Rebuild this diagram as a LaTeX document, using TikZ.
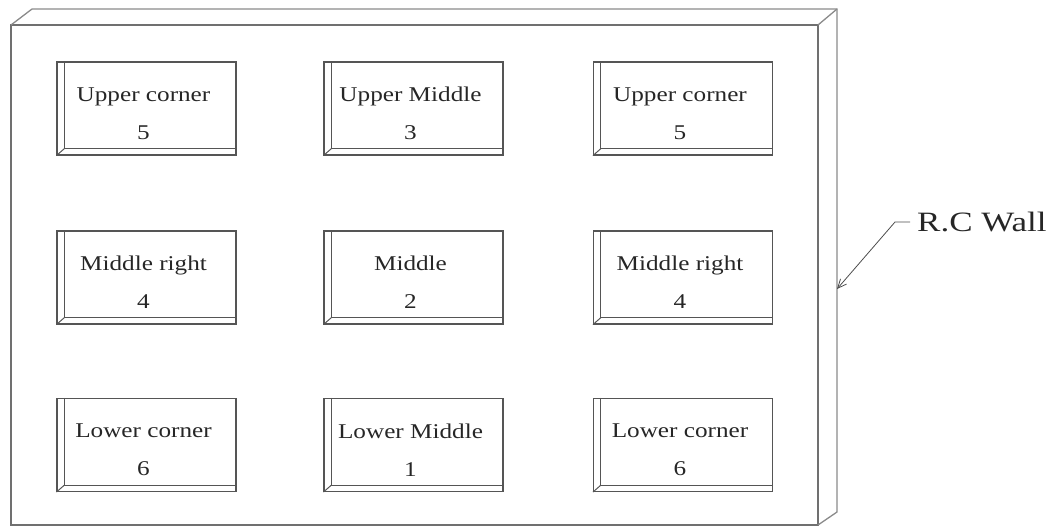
\documentclass[tikz,border=0pt]{standalone}
\usepackage{fontspec}
\setmainfont{Liberation Serif}
\newfontfamily\boxfont[FakeStretch=1.2]{Liberation Serif}
\newfontfamily\wallfont[FakeStretch=1.25]{Liberation Serif}
\usetikzlibrary{arrows.meta}
\definecolor{boxline}{HTML}{555555}
\definecolor{wallline}{HTML}{707070}
\definecolor{backline}{HTML}{8A8A8A}
\tikzset{
  wbox/.style={draw=boxline, line width=1.1pt, minimum width=179pt, minimum height=93pt, inner sep=0pt},
  bevel/.style={draw=boxline, line width=1pt},
  wtext/.style={font=\boxfont\fontsize{21}{38}\selectfont, align=center, text=black!85, inner sep=0pt},
  wall/.style={draw=wallline, line width=1.3pt},
  wallback/.style={draw=backline, line width=1.3pt},
  leader/.style={draw=black!70, line width=0.8pt, -{Straight Barb[length=9pt,width=8pt]}}
}
\newcommand{\wallbox}[5]{%
  \node[wbox] (#1) at (#2,#3) {};
  \draw[bevel] ([xshift=8pt]#1.north west) -- ([xshift=8pt,yshift=7pt]#1.south west) -- ([yshift=7pt]#1.south east);
  \draw[bevel] ([xshift=8pt,yshift=7pt]#1.south west) -- (#1.south west);
  \node[wtext] (#1-t) at ([xshift=-3pt,yshift=-5pt]#1.center) {#4\\#5};
}
\begin{document}
\begin{tikzpicture}[x=1pt,y=-1pt]
\useasboundingbox (0,0) rectangle (1062,527);
% wall
\coordinate (fa) at (11,25);
\coordinate (fb) at (818,25);
\coordinate (fc) at (818,525);
\coordinate (fd) at (11,525);
\coordinate (ba) at (32,9);
\coordinate (bb) at (837,9);
\coordinate (bc) at (837,512);
\draw[wall] (fa) -- (fb) -- (fc) -- (fd) -- cycle;
\draw[wallback] (fa) -- (ba) -- (bb) -- (bc) -- (fc);
\draw[wallback] (fb) -- (bb);
% boxes
\wallbox{ul}{146.5}{108.5}{Upper corner}{5}
\wallbox{um}{413.5}{108.5}{Upper Middle}{3}
\wallbox{ur}{683}{108.5}{Upper corner}{5}
\wallbox{ml}{146.5}{277.5}{Middle right}{4}
\wallbox{mm}{413.5}{277.5}{Middle}{2}
\wallbox{mr}{683}{277.5}{Middle right}{4}
\wallbox{ll}{146.5}{445}{Lower corner}{6}
\wallbox{lm}{413.5}{445}{Lower Middle}{1}
\wallbox{lr}{683}{445}{Lower corner}{6}
% label
\node[font=\wallfont\fontsize{28}{32}\selectfont, anchor=west, inner sep=0pt, text=black!85] (rc) at (917,222) {R.C Wall};
\coordinate (tick) at (895,222);
\coordinate (tip) at (837,289);
\draw[leader] ([xshift=-7pt]rc.west) -- (tick) -- (tip);
\end{tikzpicture}
\end{document}
